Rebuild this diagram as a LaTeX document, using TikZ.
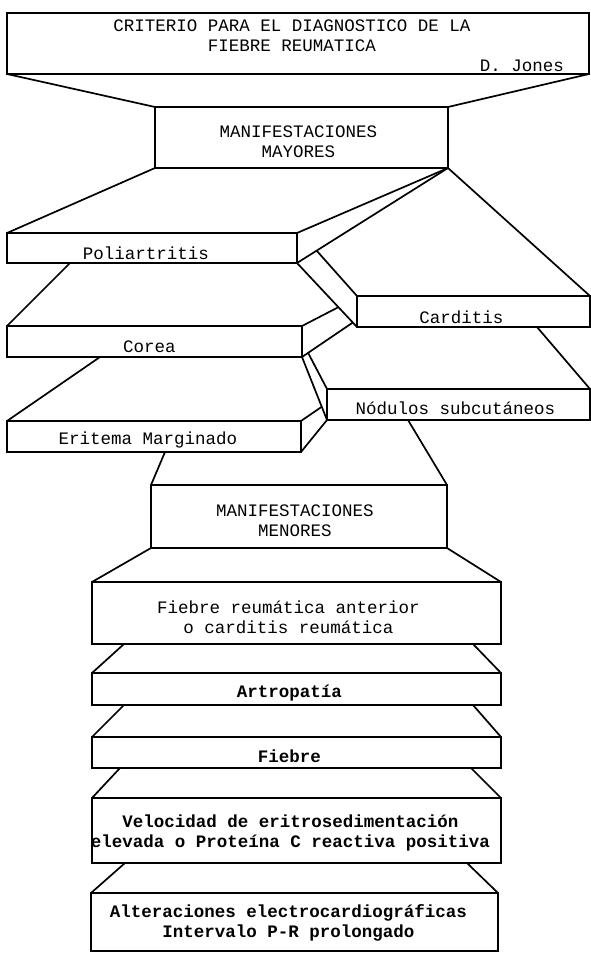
\documentclass[tikz,border=0pt]{standalone}
\usepackage{fontspec}
\newfontfamily\typew{Liberation Mono}
\usetikzlibrary{calc}
\begin{document}
\begin{tikzpicture}[x=1pt, y=-1pt,
    slab/.style={draw, line width=2.2pt, anchor=north west, outer sep=0pt, inner sep=0pt},
    edge/.style={line width=1.7pt},
    lbl/.style={font=\typew\fontsize{17.5}{20}\selectfont, align=center, inner sep=0pt},
    heavy/.style={lbl, font=\typew\bfseries\fontsize{17.5}{20}\selectfont}]
  \useasboundingbox (0,0) rectangle (591,953);
  \node[slab, minimum width=582pt, minimum height=61pt] (crit) at (7,13) {};
  \node[slab, minimum width=293pt, minimum height=61pt] (mayor) at (155,107) {};
  \node[slab, minimum width=290pt, minimum height=30pt] (poli) at (7,233) {};
  \node[slab, minimum width=233pt, minimum height=31pt] (cardi) at (357,296) {};
  \node[slab, minimum width=295pt, minimum height=31pt] (corea) at (7,326) {};
  \node[slab, minimum width=263pt, minimum height=31pt] (nodu) at (327,389) {};
  \node[slab, minimum width=294pt, minimum height=31pt] (erit) at (7,421) {};
  \node[slab, minimum width=296pt, minimum height=63pt] (menor) at (151,485) {};
  \node[slab, minimum width=409pt, minimum height=62pt] (ante) at (92,582) {};
  \node[slab, minimum width=409pt, minimum height=32pt] (artro) at (92,673) {};
  \node[slab, minimum width=409pt, minimum height=31pt] (fieb) at (92,737) {};
  \node[slab, minimum width=409pt, minimum height=65pt] (veloc) at (92,798) {};
  \node[slab, minimum width=407pt, minimum height=58pt] (alter) at (91,893) {};

  \node[lbl] (crit-t) at (292,36) {CRITERIO PARA EL DIAGNOSTICO DE LA\\FIEBRE REUMATICA};
  \node[lbl] (jones) at (522,66) {D. Jones};
  \node[lbl] (mayor-t) at ([shift={(-3,4)}]mayor.center) {MANIFESTACIONES\\MAYORES};
  \node[lbl] (poli-t) at ([shift={(-6,5)}]poli.center) {Poliartritis};
  \node[lbl] (cardi-t) at ([shift={(-12,6)}]cardi.center) {Carditis};
  \node[lbl] (corea-t) at ([shift={(-5,5)}]corea.center) {Corea};
  \node[lbl] (nodu-t) at ([shift={(-3,4)}]nodu.center) {Nódulos subcutáneos};
  \node[lbl] (erit-t) at ([shift={(-6,3)}]erit.center) {Eritema Marginado};
  \node[lbl] (menor-t) at ([shift={(-4,4)}]menor.center) {MANIFESTACIONES\\MENORES};
  \node[lbl] (ante-t) at ([shift={(-8,4)}]ante.center) {Fiebre reumática anterior\\o carditis reumática};
  \node[heavy] (artro-t) at ([shift={(-7,4)}]artro.center) {Artropatía};
  \node[heavy] (fieb-t) at ([shift={(-7,4)}]fieb.center) {Fiebre};
  \node[heavy] (veloc-t) at ([shift={(-6,2)}]veloc.center) {Velocidad de eritrosedimentación\\elevada o Proteína C reactiva positiva};
  \node[heavy] (alter-t) at ([shift={(-6,1)}]alter.center) {Alteraciones electrocardiográficas\\Intervalo P-R prolongado};

  \coordinate (pc) at ($(poli.south east)!0.13!(mayor.south east)$);
  \coordinate (pg) at ($(poli.south east)!0.69!(cardi.south west)$);
  \coordinate (ph) at ($(poli.south east)!0.93!(cardi.south west)$);
  \coordinate (hn) at ($(corea.south east)!0.12!(ph)$);
  \coordinate (en) at ($(corea.south east)!0.79!(nodu.south west)$);

  \draw[edge] (crit.south west) -- (mayor.north west);
  \draw[edge] (crit.south east) -- (mayor.north east);
  \draw[edge] (mayor.south west) -- (poli.north west);
  \draw[edge] (mayor.south east) -- (poli.north east);
  \draw[edge] (poli.south east) -- (mayor.south east);
  \draw[edge] (pc) -- (cardi.north west);
  \draw[edge] (mayor.south east) -- (cardi.north east);
  \draw[edge] (poli.south east) -- (cardi.south west);
  \draw[edge] ([xshift=63pt]poli.south west) -- (corea.north west);
  \draw[edge] (corea.north east) -- (pg);
  \draw[edge] (corea.south east) -- (ph);
  \draw[edge] (corea.south east) -- (nodu.south west);
  \draw[edge] (hn) -- (nodu.north west);
  \draw[edge] ([xshift=180pt]cardi.south west) -- (nodu.north east);
  \draw[edge] ([xshift=93pt]corea.south west) -- (erit.north west);
  \draw[edge] (erit.north east) -- (en);
  \draw[edge] (erit.south east) -- (nodu.south west);
  \draw[edge] ([xshift=158pt]erit.south west) -- (menor.north west);
  \draw[edge] ([xshift=81pt]nodu.south west) -- (menor.north east);
  \draw[edge] (menor.south west) -- (ante.north west);
  \draw[edge] (menor.south east) -- (ante.north east);
  \draw[edge] ([xshift=32pt]ante.south west) -- (artro.north west);
  \draw[edge] ([xshift=-28pt]ante.south east) -- (artro.north east);
  \draw[edge] ([xshift=32pt]artro.south west) -- (fieb.north west);
  \draw[edge] ([xshift=-28pt]artro.south east) -- (fieb.north east);
  \draw[edge] ([xshift=28pt]fieb.south west) -- (veloc.north west);
  \draw[edge] ([xshift=-30pt]fieb.south east) -- (veloc.north east);
  \draw[edge] ([xshift=33pt]veloc.south west) -- (alter.north west);
  \draw[edge] ([xshift=-34pt]veloc.south east) -- (alter.north east);
\end{tikzpicture}
\end{document}
